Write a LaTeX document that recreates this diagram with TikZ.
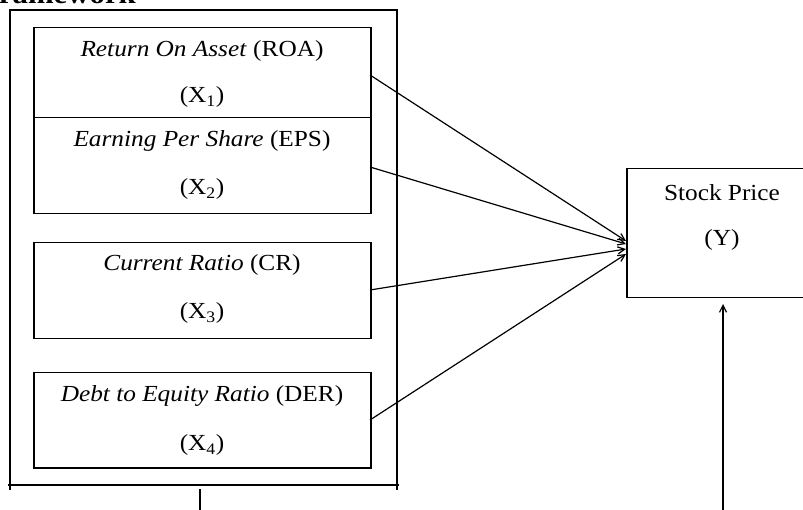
\documentclass[tikz,border=0pt]{standalone}
\usepackage{fontspec}
\setmainfont{Liberation Serif}[FakeStretch=1.1]
\usetikzlibrary{arrows.meta}
\begin{document}
\begin{tikzpicture}[x=1pt,y=-1pt,
  box/.style={draw,line width=1.5pt},
  lbl/.style={font=\fontsize{23}{26}\selectfont,inner sep=0pt},
  conn/.style={line width=1.2pt,-{Straight Barb[length=7pt,width=7pt]}}]
\useasboundingbox (0,0) rectangle (803,510);
\node[anchor=base east,font=\bfseries\fontsize{28}{30}\selectfont,inner sep=0pt] (title) at (136,4) {Framework};
% outer frame
\draw[line width=1.5pt] (10,490) -- (10,10) -- (397,10) -- (397,490);
\draw[line width=1.5pt] (8,485) -- (399,485);
% inner boxes
\node[box,minimum width=337pt,minimum height=90pt,anchor=north west] (b1) at (33,27) {};
\node[box,minimum width=337pt,minimum height=96pt,anchor=north west] (b2) at (33,117) {};
\node[box,minimum width=337pt,minimum height=96pt,anchor=north west] (b3) at (33,242) {};
\node[box,minimum width=337pt,minimum height=95pt,anchor=north west] (b4) at (33,372) {};
\node[lbl] (t1) at (202,51) {\textit{Return On Asset} (ROA)};
\node[lbl] (x1) at (202,97) {(X\textsubscript{1})};
\node[lbl] (t2) at (202,141) {\textit{Earning Per Share} (EPS)};
\node[lbl] (x2) at (202,189) {(X\textsubscript{2})};
\node[lbl] (t3) at (202,265) {\textit{Current Ratio} (CR)};
\node[lbl] (x3) at (202,313) {(X\textsubscript{3})};
\node[lbl] (t4) at (202,396) {\textit{Debt to Equity Ratio} (DER)};
\node[lbl] (x4) at (202,445) {(X\textsubscript{4})};
% stock price
\node[box,minimum width=200pt,minimum height=129pt,anchor=north west] (y) at (626,168) {};
\node[lbl] (ty) at (722,193) {Stock Price};
\node[lbl] (yy) at (722,240) {(Y)};
% connectors
\coordinate (e1) at (370,75);
\coordinate (e2) at (370,167);
\coordinate (e3) at (370,290);
\coordinate (e4) at (370,420);
\coordinate (p1) at (626,241);
\coordinate (p2) at (626,244);
\coordinate (p3) at (626,249);
\coordinate (p4) at (626,254);
\draw[conn] (e1) -- (p1);
\draw[conn] (e2) -- (p2);
\draw[conn] (e3) -- (p3);
\draw[conn] (e4) -- (p4);
\coordinate (m0) at (200,489);
\coordinate (m1) at (200,512);
\draw[line width=1.2pt] (m0) -- (m1);
\coordinate (r0) at (723,512);
\coordinate (r1) at (723,304);
\draw[conn] (r0) -- (r1);
\end{tikzpicture}
\end{document}
